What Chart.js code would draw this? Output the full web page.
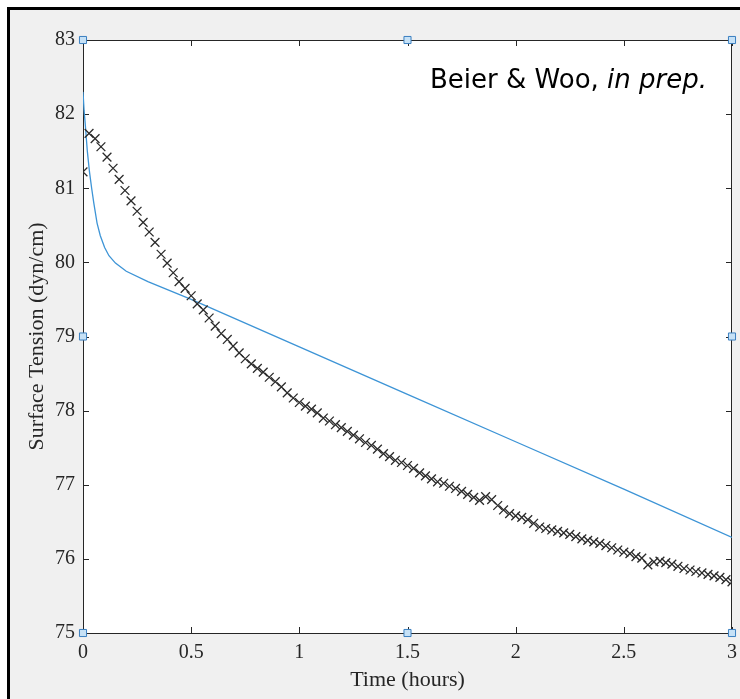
<!DOCTYPE html>
<html>
<head>
<meta charset="utf-8">
<title>Surface tension vs time</title>
<script src="https://cdn.jsdelivr.net/npm/chart.js@4.4.1/dist/chart.umd.min.js"></script>
<style>
  html, body { margin: 0; padding: 0; background: #fff; }
  canvas { display: block; }
</style>
</head>
<body>
<canvas id="tensionChart" width="740" height="699"></canvas>
<script>
// measured surface tension, one reading about every 100 s
const timeHours = [
  0, 0.028, 0.056, 0.083, 0.111, 0.139, 0.167, 0.194, 0.222, 0.25,
  0.278, 0.306, 0.333, 0.361, 0.389, 0.417, 0.444, 0.472, 0.5, 0.528,
  0.556, 0.583, 0.611, 0.639, 0.667, 0.694, 0.722, 0.75, 0.778, 0.806,
  0.833, 0.861, 0.889, 0.917, 0.944, 0.972, 1, 1.028, 1.056, 1.083,
  1.111, 1.139, 1.167, 1.194, 1.222, 1.25, 1.278, 1.306, 1.333, 1.361,
  1.389, 1.417, 1.444, 1.472, 1.5, 1.528, 1.556, 1.583, 1.611, 1.639,
  1.667, 1.694, 1.722, 1.75, 1.778, 1.806, 1.833, 1.861, 1.889, 1.917,
  1.944, 1.972, 2, 2.028, 2.056, 2.083, 2.111, 2.139, 2.167, 2.194,
  2.222, 2.25, 2.278, 2.306, 2.333, 2.361, 2.389, 2.417, 2.444, 2.472,
  2.5, 2.528, 2.556, 2.583, 2.611, 2.639, 2.667, 2.694, 2.722, 2.75,
  2.778, 2.806, 2.833, 2.861, 2.889, 2.917, 2.944, 2.972, 3
];
const tensionMeasured = [
  81.22, 81.74, 81.67, 81.56, 81.42, 81.27, 81.12, 80.97, 80.83, 80.69,
  80.54, 80.41, 80.27, 80.11, 79.99, 79.86, 79.74, 79.65, 79.55, 79.44,
  79.36, 79.25, 79.14, 79.04, 78.96, 78.87, 78.78, 78.70, 78.63, 78.57,
  78.52, 78.45, 78.39, 78.32, 78.24, 78.17, 78.11, 78.06, 78.02, 77.97,
  77.90, 77.86, 77.81, 77.77, 77.72, 77.67, 77.62, 77.57, 77.53, 77.48,
  77.42, 77.38, 77.33, 77.30, 77.26, 77.22, 77.16, 77.12, 77.08, 77.04,
  77.02, 76.98, 76.95, 76.91, 76.87, 76.83, 76.79, 76.84, 76.80, 76.72,
  76.66, 76.61, 76.58, 76.56, 76.53, 76.48, 76.43, 76.41, 76.39, 76.37,
  76.35, 76.33, 76.30, 76.27, 76.25, 76.23, 76.21, 76.18, 76.15, 76.12,
  76.09, 76.07, 76.03, 76.01, 75.92, 75.96, 75.97, 75.95, 75.93, 75.90,
  75.87, 75.85, 75.83, 75.81, 75.79, 75.77, 75.75, 75.72, 75.69
];

// model curve
const modelTime = [0, 0.005, 0.01, 0.02, 0.03, 0.04, 0.05, 0.065, 0.08, 0.1,
  0.12, 0.15, 0.2, 0.3, 0.5, 1, 1.5, 2, 2.5, 3];
const modelTension = [82.3, 82.05, 81.88, 81.5, 81.22, 81.0, 80.8, 80.53, 80.36, 80.2,
  80.09, 79.99, 79.88, 79.74, 79.5, 78.86, 78.22, 77.58, 76.94, 76.29];

// axes
const xTicks = [0, 0.5, 1, 1.5, 2, 2.5, 3];
const yTicks = [75, 76, 77, 78, 79, 80, 81, 82, 83];

// figure editor handles on the axes box
const handleTime = [0, 1.5, 3, 0, 3, 0, 1.5, 3];
const handleTension = [83, 83, 83, 79, 79, 75, 75, 75];

const inkColor = "#262626";
const serif = "'Liberation Serif', 'Times New Roman', serif";

function toPoints(xs, ys) {
  return xs.map((x, i) => ({ x: x, y: ys[i] }));
}

// grey figure background with black frame on top/left
const backdrop = {
  id: "backdrop",
  beforeDraw(chart) {
    const { ctx, width, height, chartArea } = chart;
    ctx.save();
    ctx.fillStyle = "#fff";
    ctx.fillRect(0, 0, width, height);
    ctx.fillStyle = "#f0f0f0";
    ctx.fillRect(9, 9, width - 9, height - 9);
    ctx.fillStyle = "#000";
    ctx.fillRect(7, 7, width - 7, 3);
    ctx.fillRect(7, 7, 3, height - 7);
    ctx.fillStyle = "#fff";
    ctx.fillRect(chartArea.left, chartArea.top, chartArea.width, chartArea.height);
    ctx.restore();
  }
};

// box around the axes with inward ticks on all four sides
const axesBox = {
  id: "axesBox",
  beforeDatasetsDraw(chart) {
    const { ctx, chartArea: a, scales } = chart;
    const len = 6;
    ctx.save();
    ctx.strokeStyle = inkColor;
    ctx.lineWidth = 1;
    ctx.strokeRect(a.left + 0.5, a.top + 0.5, a.width - 1, a.height);
    ctx.beginPath();
    scales.x.ticks.forEach(t => {
      const px = Math.round(scales.x.getPixelForValue(t.value)) + 0.5;
      ctx.moveTo(px, a.bottom); ctx.lineTo(px, a.bottom - len);
      ctx.moveTo(px, a.top); ctx.lineTo(px, a.top + len);
    });
    scales.y.ticks.forEach(t => {
      const py = Math.round(scales.y.getPixelForValue(t.value)) + 0.5;
      ctx.moveTo(a.left, py); ctx.lineTo(a.left + len, py);
      ctx.moveTo(a.right, py); ctx.lineTo(a.right - len, py);
    });
    ctx.stroke();
    ctx.restore();
  }
};

// "Beier & Woo, in prep." note in the top right corner
const note = {
  id: "note",
  afterDraw(chart) {
    const { ctx, chartArea: a } = chart;
    const size = 26;
    const right = a.right - 25;
    const base = a.top + 48;
    ctx.save();
    ctx.fillStyle = "#000";
    ctx.textBaseline = "alphabetic";
    ctx.textAlign = "left";
    ctx.font = "italic " + size + "px 'DejaVu Sans', sans-serif";
    const italicPart = "in prep.";
    const wItalic = ctx.measureText(italicPart).width;
    ctx.font = size + "px 'DejaVu Sans', sans-serif";
    const plainPart = "Beier & Woo, ";
    const wPlain = ctx.measureText(plainPart).width;
    ctx.fillText(plainPart, right - wItalic - wPlain, base);
    ctx.font = "italic " + size + "px 'DejaVu Sans', sans-serif";
    ctx.fillText(italicPart, right - wItalic, base);
    ctx.restore();
  }
};

Chart.defaults.font.family = serif;
Chart.defaults.color = inkColor;

const ctx = document.getElementById("tensionChart").getContext("2d");
const chart = new Chart(ctx, {
  type: "scatter",
  data: {
    datasets: [
      {
        label: "handles",
        data: toPoints(handleTime, handleTension),
        pointStyle: "rect",
        pointRadius: 5,
        pointBackgroundColor: "#c6e1f6",
        pointBorderColor: "#3a7fc0",
        pointBorderWidth: 1,
        showLine: false,
        clip: false,
        order: 0
      },
      {
        label: "measured",
        data: toPoints(timeHours, tensionMeasured),
        pointStyle: "crossRot",
        pointRadius: 6.2,
        pointBorderColor: "#2b2b2b",
        pointBorderWidth: 1.3,
        showLine: false,
        order: 1
      },
      {
        label: "model",
        data: toPoints(modelTime, modelTension),
        showLine: true,
        borderColor: "#3d94d6",
        borderWidth: 1.3,
        pointRadius: 0,
        tension: 0,
        order: 2
      }
    ]
  },
  options: {
    responsive: false,
    animation: false,
    layout: { padding: { top: 40, right: 8, bottom: 0, left: 0 } },
    plugins: {
      legend: { display: false },
      tooltip: { enabled: false }
    },
    scales: {
      x: {
        type: "linear",
        min: xTicks[0],
        max: xTicks[xTicks.length - 1],
        afterBuildTicks: s => { s.ticks = xTicks.map(v => ({ value: v })); },
        afterFit: s => { s.height = 66; s.paddingLeft = 0; s.paddingRight = 0; },
        grid: { display: false, drawTicks: false },
        border: { display: false },
        ticks: {
          font: { size: 20 },
          padding: 8,
          color: inkColor,
          maxRotation: 0,
          callback: v => String(v)
        },
        title: {
          display: true,
          text: "Time (hours)",
          font: { size: 22 },
          color: inkColor,
          padding: { top: 0, bottom: 6 }
        }
      },
      y: {
        type: "linear",
        min: yTicks[0],
        max: yTicks[yTicks.length - 1],
        afterBuildTicks: s => { s.ticks = yTicks.map(v => ({ value: v })); },
        afterFit: s => { s.width = 83; s.paddingTop = 0; s.paddingBottom = 0; },
        grid: { display: false, drawTicks: false },
        border: { display: false },
        ticks: { font: { size: 20 }, padding: 8, color: inkColor, callback: v => String(v) },
        title: {
          display: true,
          text: "Surface Tension (dyn/cm)",
          font: { size: 22 },
          color: inkColor,
          padding: { top: 24, bottom: 0 }
        }
      }
    }
  },
  plugins: [backdrop, axesBox, note]
});
</script>
</body>
</html>
